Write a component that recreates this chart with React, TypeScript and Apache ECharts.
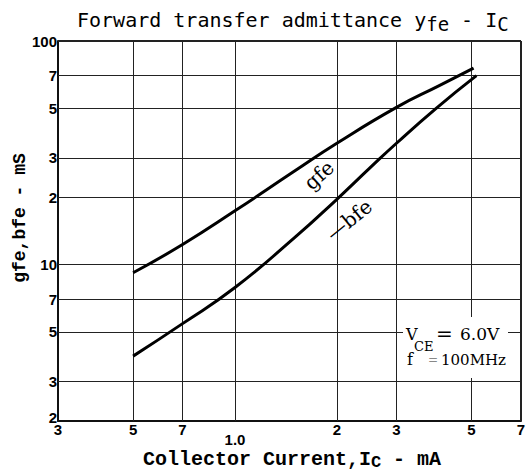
import React, { useEffect, useRef } from 'react';
import * as echarts from 'echarts';

// Tick values and their printed labels
const xTicks = [0.3, 0.5, 0.7, 1, 2, 3, 5, 7];
const xTickLabels = ['3', '5', '7', '1.0', '2', '3', '5', '7'];
const yTicks = [2, 3, 5, 7, 10, 20, 30, 50, 70, 100];
const yTickLabels = ['2', '3', '5', '7', '10', '2', '3', '5', '7', '100'];

// gfe curve (Ic in mA, value in mS)
const gfeCurrent = [0.5, 0.7, 1.0, 1.5, 2, 3, 4, 5.07];
const gfeValues = [9.2, 12.3, 17.4, 26.2, 34.9, 50.5, 63, 75.6];

// -bfe curve
const bfeCurrent = [0.5, 0.7, 1.0, 1.5, 2, 2.5, 3, 3.93, 5.17];
const bfeValues = [3.9, 5.45, 7.9, 13.2, 19.6, 27, 34.9, 50, 70];

const TICK_FONT = "'Liberation Sans', Arial, sans-serif";
const MONO = "'Liberation Mono', 'Courier New', monospace";
const SERIF = "'DejaVu Serif', 'Liberation Serif', serif";
const TITLE_FONT = "'DejaVu Sans Mono', monospace";

function txt(text: string, x: number, y: number, size: number, extra: any = {}) {
  return {
    type: 'text',
    x,
    y,
    z: 11,
    style: {
      text,
      fontFamily: SERIF,
      fontSize: size,
      fill: '#000',
      verticalAlign: 'middle',
      ...extra,
    },
  };
}

export default function App() {
  const ref = useRef<HTMLDivElement>(null);
  useEffect(() => {
    if (!ref.current) return;
    const chart = echarts.init(ref.current, undefined, { renderer: 'svg' });

    const xLines = xTicks.map((v, i) => ({
      xAxis: v,
      lineStyle: { width: v === 7 ? 2 : v === 0.3 ? 0 : 1 },
      label: {
        formatter: xTickLabels[i],
        distance: xTickLabels[i] === '1.0' ? 11 : 1,
      },
    }));
    const yLines = yTicks.map((v, i) => ({
      yAxis: v,
      lineStyle: { width: v === 100 ? 2 : v === 2 ? 0 : 1 },
      label: { formatter: yTickLabels[i], distance: 1, offset: v === 2 ? [0, -4] : [0, 0] },
    }));

    const option: any = {
      animation: false,
      backgroundColor: '#ffffff',
      grid: { left: 58, right: 8, top: 41, bottom: 50 },
      xAxis: {
        type: 'log',
        logBase: 10,
        min: 0.3,
        max: 7,
        axisLine: { show: true, lineStyle: { color: '#111', width: 2 } },
        axisTick: { show: false },
        axisLabel: { show: false },
        splitLine: { show: false },
      },
      yAxis: {
        type: 'log',
        logBase: 10,
        min: 2,
        max: 100,
        axisLine: { show: true, lineStyle: { color: '#111', width: 2 } },
        axisTick: { show: false },
        axisLabel: { show: false },
        splitLine: { show: false },
      },
      series: [
        {
          type: 'line',
          name: 'grid',
          data: [],
          silent: true,
          z: 1,
          markLine: {
            silent: true,
            symbol: ['none', 'none'],
            animation: false,
            lineStyle: { type: 'solid', color: '#222', width: 1 },
            label: {
              show: true,
              position: 'start',
              color: '#000',
              fontFamily: TICK_FONT,
              fontWeight: 'bold',
              fontSize: 15,
            },
            emphasis: { disabled: true },
            data: [...xLines, ...yLines],
          },
        },
        {
          type: 'line',
          name: 'gfe',
          data: gfeCurrent.map((x, i) => [x, gfeValues[i]]),
          smooth: 0.5,
          showSymbol: false,
          lineStyle: { color: '#000', width: 3 },
          z: 5,
        },
        {
          type: 'line',
          name: '-bfe',
          data: bfeCurrent.map((x, i) => [x, bfeValues[i]]),
          smooth: 0.5,
          showSymbol: false,
          lineStyle: { color: '#000', width: 3 },
          z: 5,
        },
      ],
      graphic: [
        {
          type: 'text',
          left: 77,
          top: 10,
          style: {
            text: 'Forward transfer admittance y{s|fe} - I{s|C}',
            fontFamily: TITLE_FONT,
            fontSize: 20,
            fill: '#000',
            rich: {
              s: { fontFamily: TITLE_FONT, fontSize: 19, padding: [8, 0, 0, 0], fill: '#000' },
            },
          },
        },
        {
          type: 'text',
          x: 292,
          y: 459,
          style: {
            text: 'Collector Current,I{s|C} - mA',
            fontFamily: MONO,
            fontWeight: 'bold',
            fontSize: 20,
            fill: '#000',
            align: 'center',
            verticalAlign: 'middle',
            rich: { s: { fontFamily: MONO, fontWeight: 'bold', fontSize: 17, padding: [7, 0, 0, 0], fill: '#000' } },
          },
        },
        {
          type: 'text',
          x: 20,
          y: 218,
          rotation: Math.PI / 2,
          style: {
            text: 'gfe,bfe - mS',
            fontFamily: MONO,
            fontWeight: 'bold',
            fontSize: 18,
            fill: '#000',
            align: 'center',
            verticalAlign: 'middle',
          },
        },
        {
          type: 'text',
          x: 319,
          y: 175,
          rotation: (42 * Math.PI) / 180,
          style: {
            text: 'gfe',
            fontFamily: SERIF,
            fontSize: 20,
            fill: '#000',
            align: 'center',
            verticalAlign: 'middle',
          },
          z: 10,
        },
        {
          type: 'text',
          x: 349,
          y: 220,
          rotation: (39 * Math.PI) / 180,
          style: {
            text: '\u2014bfe',
            fontFamily: SERIF,
            fontSize: 20,
            fill: '#000',
            align: 'center',
            verticalAlign: 'middle',
          },
          z: 10,
        },
        {
          type: 'rect',
          shape: { x: 403, y: 317, width: 105, height: 61 },
          style: { fill: '#fff' },
          z: 10,
        },
        txt('V', 406, 334, 16),
        txt('CE', 414, 346, 13),
        txt('=', 436, 334, 20),
        txt('6.0V', 460, 334, 17),
        txt('f', 407, 359, 16),
        txt('=', 428, 360, 12, { fill: '#888' }),
        txt('100MHz', 441, 360, 15),
      ],
    };
    chart.setOption(option);
    return () => chart.dispose();
  }, []);
  return (
    <div
      ref={ref}
      style={{ position: 'fixed', left: 0, top: 0, width: 529, height: 471, background: '#fff' }}
    />
  );
}
